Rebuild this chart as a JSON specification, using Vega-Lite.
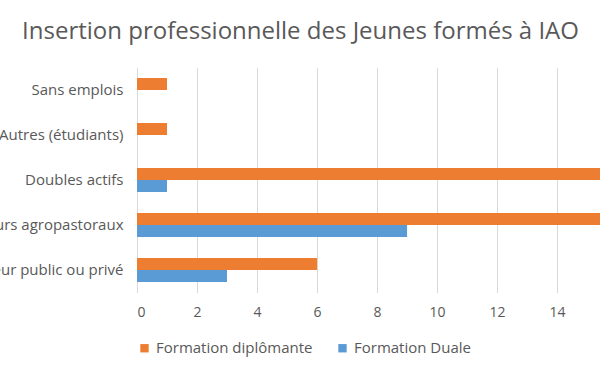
{
  "$schema": "https://vega.github.io/schema/vega-lite/v6.json",
  "autosize": {"type": "none"},
  "padding": {"left": 137, "top": 67.5, "right": 0, "bottom": 83.5},
  "width": 463,
  "height": 225,
  "background": "white",
  "title": {
    "text": "Insertion professionnelle des Jeunes formés à IAO",
    "font": "Open Sans",
    "fontSize": 24,
    "fontWeight": "normal",
    "color": "#595959",
    "anchor": "middle",
    "dx": -68,
    "offset": 24
  },
  "data": {
    "values": [
      {"categorie": "Sans emplois", "formation": "Formation diplômante", "valeur": 1},
      {"categorie": "Sans emplois", "formation": "Formation Duale", "valeur": 0},
      {"categorie": "Autres (étudiants)", "formation": "Formation diplômante", "valeur": 1},
      {"categorie": "Autres (étudiants)", "formation": "Formation Duale", "valeur": 0},
      {"categorie": "Doubles actifs", "formation": "Formation diplômante", "valeur": 18},
      {"categorie": "Doubles actifs", "formation": "Formation Duale", "valeur": 1},
      {"categorie": "Producteurs agropastoraux", "formation": "Formation diplômante", "valeur": 20},
      {"categorie": "Producteurs agropastoraux", "formation": "Formation Duale", "valeur": 9},
      {"categorie": "Salariés du secteur public ou privé", "formation": "Formation diplômante", "valeur": 6},
      {"categorie": "Salariés du secteur public ou privé", "formation": "Formation Duale", "valeur": 3}
    ]
  },
  "mark": {"type": "bar", "clip": true},
  "encoding": {
    "y": {
      "field": "categorie",
      "type": "nominal",
      "sort": ["Sans emplois", "Autres (étudiants)", "Doubles actifs", "Producteurs agropastoraux", "Salariés du secteur public ou privé"],
      "scale": {"paddingInner": 0.467, "paddingOuter": 0.233},
      "axis": {
        "title": null,
        "ticks": false,
        "domain": false,
        "labelPadding": 14,
        "labelLimit": 0,
        "labelFont": "Open Sans",
        "labelFontSize": 15,
        "labelColor": "#595959"
      }
    },
    "yOffset": {
      "field": "formation",
      "type": "nominal",
      "sort": ["Formation diplômante", "Formation Duale"],
      "scale": {"paddingInner": 0, "paddingOuter": 0}
    },
    "x": {
      "field": "valeur",
      "type": "quantitative",
      "scale": {"domain": [0, 15.43], "nice": false, "zero": true},
      "axis": {
        "title": null,
        "values": [0, 2, 4, 6, 8, 10, 12, 14],
        "grid": true,
        "gridColor": "#d9d9d9",
        "gridWidth": 1,
        "domain": false,
        "ticks": false,
        "labelPadding": 13,
        "labelFont": "Open Sans",
        "labelFontSize": 14,
        "labelColor": "#595959"
      }
    },
    "color": {
      "field": "formation",
      "type": "nominal",
      "sort": ["Formation diplômante", "Formation Duale"],
      "scale": {"domain": ["Formation diplômante", "Formation Duale"], "range": ["#ED7D31", "#5B9BD5"]},
      "legend": {
        "title": null,
        "orient": "bottom",
        "direction": "horizontal",
        "symbolType": "square",
        "symbolSize": 70,
        "symbolStrokeWidth": 0,
        "labelFont": "Open Sans",
        "labelFontSize": 15,
        "labelColor": "#595959",
        "columnPadding": 22,
        "offset": 21
      }
    }
  },
  "config": {"view": {"stroke": null}}
}
